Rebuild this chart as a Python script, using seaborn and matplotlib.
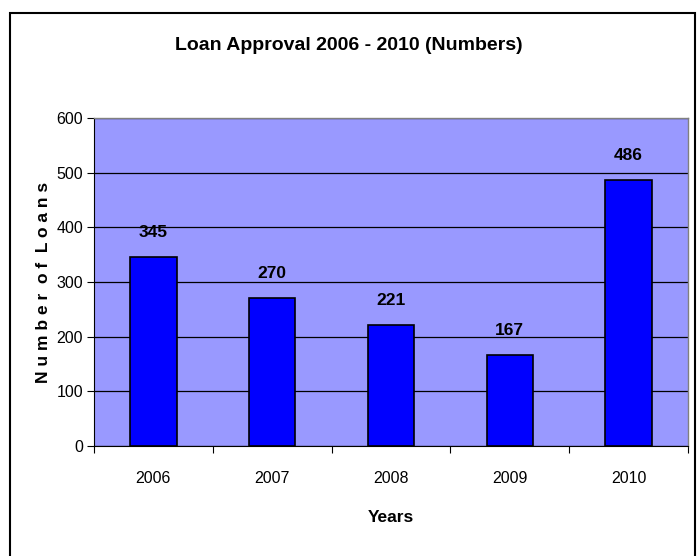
import matplotlib
matplotlib.use("Agg")
import matplotlib.pyplot as plt
import seaborn as sns
import pandas as pd
from matplotlib.patches import Rectangle

years = ["2006", "2007", "2008", "2009", "2010"]
loans = [345, 270, 221, 167, 486]
yticks = [0, 100, 200, 300, 400, 500, 600]

sns.set_theme(style="white")
plt.rcParams['font.family'] = ['Liberation Sans Narrow', 'Liberation Sans', 'DejaVu Sans']
plt.rcParams['text.color'] = 'black'
plt.rcParams['axes.labelcolor'] = 'black'
plt.rcParams['xtick.color'] = 'black'
plt.rcParams['ytick.color'] = 'black'

df = pd.DataFrame({"Year": years, "Loans": loans})

fig = plt.figure(figsize=(6.99, 5.56), dpi=100)
fig.patch.set_facecolor("white")
ax = fig.add_axes([94/699, 1-446/556, (688-94)/699, (446-118)/556])
ax.set_facecolor("#9999FF")

sns.barplot(data=df, x="Year", y="Loans", color="#0000FF", width=0.39,
            edgecolor="black", linewidth=1.2, saturation=1, ax=ax, zorder=3)

ax.set_ylim(0, 600)
ax.set_xlim(-0.5, 4.5)
ax.set_yticks(yticks)
ax.set_yticklabels([str(t) for t in yticks], fontsize=11.5)
ax.yaxis.grid(True, color="black", linewidth=0.9, zorder=1)
ax.set_axisbelow(True)

ax.set_xticks(range(len(years)))
ax.set_xticklabels(years, fontsize=11.5)
ax.set_xticks([i - 0.5 for i in range(len(years) + 1)], minor=True)
ax.tick_params(axis="x", which="major", length=0, pad=18, bottom=True)
ax.tick_params(axis="x", which="minor", length=5, color="black", width=0.8,
               direction="out", bottom=True)
ax.tick_params(axis="y", length=5, color="black", width=0.8, direction="out", pad=3, left=True)

for s in ["left", "bottom"]:
    ax.spines[s].set_color("black")
    ax.spines[s].set_linewidth(0.8)
for s in ["top", "right"]:
    ax.spines[s].set_color("#808080")
    ax.spines[s].set_linewidth(1.0)

for i, v in enumerate(loans):
    ax.text(i, v + 45, str(v), ha="center", va="center", fontsize=12.5,
            fontweight="bold", color="black")

ax.set_xlabel("Years", fontsize=12.5, fontweight="bold", labelpad=17)
ax.set_ylabel("N u m b e r  o f  L o a n s", fontsize=12.5, fontweight="bold", labelpad=4)

fig.text(349/699, 1-46/556, "Loan Approval 2006 - 2010 (Numbers)", ha="center", va="center",
         fontsize=14, fontweight="bold", color="black")

border = Rectangle((10/699, -0.05), (695-10)/699, 1-13/556+0.05, transform=fig.transFigure,
                   fill=False, edgecolor="black", linewidth=1.5, clip_on=False)
fig.patches.append(border)

fig.savefig("out.png", dpi=100)
